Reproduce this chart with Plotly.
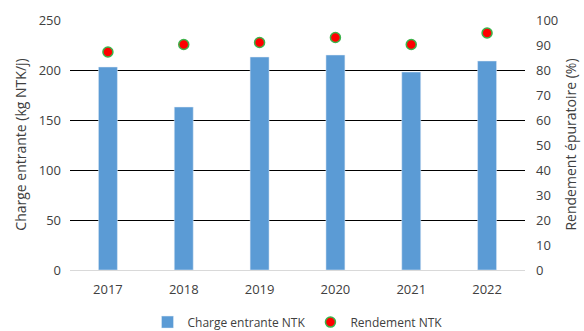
import plotly.graph_objects as go

years = ["2017", "2018", "2019", "2020", "2021", "2022"]
charge = [203, 163, 213, 215, 198, 209]
rendement = [87.2, 90.2, 91.0, 93.0, 90.2, 94.8]

fig = go.Figure()
fig.add_trace(go.Bar(x=years, y=charge, name="Charge entrante NTK",
                     marker=dict(color="#5B9BD5"), yaxis="y"))
fig.add_trace(go.Scatter(x=years, y=rendement, name="Rendement NTK", mode="markers",
                         marker=dict(color="#FF0000", size=10,
                                     line=dict(color="#3CB44B", width=1.5)),
                         yaxis="y2"))

font = dict(family="Open Sans, Liberation Sans, sans-serif", size=13, color="#404040")
fig.update_layout(
    width=584, height=331,
    margin=dict(l=70, r=59, t=19, b=61, autoexpand=False),
    paper_bgcolor="white", plot_bgcolor="white",
    font=font,
    bargap=0.75,
    showlegend=True,
    legend=dict(orientation="h", x=0.5, xanchor="center", xref="paper",
                y=0.027, yref="container", yanchor="middle",
                font=dict(size=12, color="#404040"), itemwidth=30),
    xaxis=dict(showgrid=False, showline=False, ticks="", tickfont=dict(size=13),
               ticklabelstandoff=10, automargin=False),
    yaxis=dict(range=[0, 251], tick0=0, dtick=50, showgrid=True, gridcolor="#000000", gridwidth=1,
               zeroline=True, zerolinecolor="#D9D9D9", zerolinewidth=1,
               title=dict(text="Charge entrante (kg NTK/j)", font=dict(size=14), standoff=8),
               ticks="", tickfont=dict(size=13), ticklabelstandoff=8, automargin=False),
    yaxis2=dict(range=[0, 100.4], tick0=0, dtick=10, overlaying="y", side="right", showgrid=False,
                zeroline=False,
                title=dict(text="Rendement épuratoire (%)", font=dict(size=14), standoff=8),
                ticks="", tickfont=dict(size=13), ticklabelstandoff=10, automargin=False),
)

fig.write_html("out.html")
